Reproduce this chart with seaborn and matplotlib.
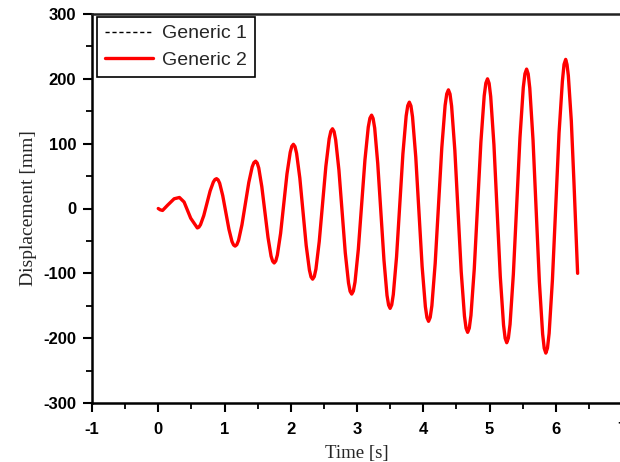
import matplotlib
matplotlib.use("Agg")
import matplotlib.pyplot as plt
import seaborn as sns
import pandas as pd
from matplotlib.ticker import MultipleLocator

# Values
time_s = [0.00, 0.03, 0.065, 0.14, 0.24, 0.32, 0.39, 0.49, 0.59,
          0.638, 0.687, 0.735, 0.783, 0.832, 0.88,
          0.927, 0.973, 1.02, 1.067, 1.113, 1.16,
          1.212, 1.263, 1.315, 1.367, 1.418, 1.47,
          1.517, 1.563, 1.61, 1.657, 1.703, 1.75,
          1.798, 1.847, 1.895, 1.943, 1.992, 2.04,
          2.088, 2.137, 2.185, 2.233, 2.282, 2.33,
          2.38, 2.43, 2.48, 2.53, 2.58, 2.63,
          2.678, 2.727, 2.775, 2.823, 2.872, 2.92,
          2.97, 3.02, 3.07, 3.12, 3.17, 3.22,
          3.267, 3.313, 3.36, 3.407, 3.453, 3.50,
          3.548, 3.597, 3.645, 3.693, 3.742, 3.79,
          3.838, 3.887, 3.935, 3.983, 4.032, 4.08,
          4.13, 4.18, 4.23, 4.28, 4.33, 4.38,
          4.428, 4.477, 4.525, 4.573, 4.622, 4.67,
          4.72, 4.77, 4.82, 4.87, 4.92, 4.97,
          5.018, 5.067, 5.115, 5.163, 5.212, 5.26,
          5.31, 5.36, 5.41, 5.46, 5.51, 5.56,
          5.608, 5.657, 5.705, 5.753, 5.802, 5.85,
          5.90, 5.95, 6.00, 6.05, 6.10, 6.15,
          6.19, 6.235, 6.275, 6.30, 6.33]
displacement_mm = [0, -2, -3, 5, 15, 17, 10, -15, -30,
                   -24.9, -11, 8, 27, 40.9, 46,
                   39.0, 20, -6, -32, -51.0, -58,
                   -49.2, -25.3, 7.5, 40.3, 64.2, 73,
                   62.5, 33.8, -5.5, -44.8, -73.5, -84,
                   -71.7, -38.3, 7.5, 53.3, 86.7, 99,
                   85.1, 47, -5, -57, -95.1, -109,
                   -93.5, -51, 7, 65, 107.5, 123,
                   105.9, 59.3, -4.5, -68.3, -114.9, -132,
                   -113.5, -63, 6, 75, 125.5, 144,
                   124, 69.5, -5, -79.5, -134, -154,
                   -132.7, -74.5, 5, 84.5, 142.7, 164,
                   141.4, 79.5, -5, -89.5, -151.4, -174,
                   -150.1, -84.8, 4.5, 93.8, 159.1, 183,
                   157.9, 89.5, -4, -97.5, -165.9, -191,
                   -164.8, -93.3, 4.5, 102.3, 173.8, 200,
                   172.7, 98.3, -3.5, -105.3, -179.7, -207,
                   -178.7, -101.5, 4, 109.5, 186.7, 215,
                   185.7, 105.5, -4, -113.5, -193.7, -223,
                   -192.6, -109.8, 3.5, 116.8, 196.1, 230,
                   205, 135, 40, -25, -100]
# extra readings close to each crest and trough
crest_time_s = [0.614, 0.856, 0.903, 1.137, 1.186, 1.444, 1.493, 1.727, 1.774,
                2.016, 2.064, 2.306, 2.355, 2.605, 2.654, 2.896, 2.945,
                3.195, 3.243, 3.477, 3.524, 3.766, 3.814, 4.056, 4.105,
                4.355, 4.404, 4.646, 4.695, 4.945, 4.994, 5.236, 5.285,
                5.535, 5.584, 5.826, 5.875, 6.125, 6.17]
crest_disp_mm = [-28.7, 44.7, 44.2, -56.2, -55.8, 70.8, 70.3, -81.3, -80.9,
                 95.9, 95.5, -105.5, -105.1, 119.1, 118.7, -127.7, -127.3,
                 139.3, 138.9, -148.9, -148.6, 158.6, 158.3, -168.3, -167.9,
                 176.9, 176.6, -184.6, -184.4, 193.4, 193.1, -200.1, -199.8,
                 207.8, 207.6, -215.6, -215.3, 222.3, 222.0]
series_names = ["Generic 1", "Generic 2"]
x_ticks = [-1, 0, 1, 2, 3, 4, 5, 6, 7]
y_ticks = [-300, -200, -100, 0, 100, 200, 300]

sns.set_theme(style="ticks")
plt.rcParams["font.family"] = ["Liberation Sans", "DejaVu Sans"]
plt.rcParams["axes.unicode_minus"] = False

curve = pd.DataFrame({"Time": time_s + crest_time_s,
                      "Displacement": displacement_mm + crest_disp_mm})
curve = curve.sort_values("Time").reset_index(drop=True)
df = pd.concat([curve.assign(Series=series_names[0]),
                curve.assign(Series=series_names[1])], ignore_index=True)

fig = plt.figure(figsize=(6.2, 4.62), dpi=100)
ax = fig.add_axes([92 / 620, 59 / 462, 530 / 620, 389 / 462])

sns.lineplot(data=df[df.Series == series_names[0]], x="Time", y="Displacement",
             sort=False, ax=ax, color="black", linewidth=1.0, linestyle="--",
             label=series_names[0], estimator=None)
sns.lineplot(data=df[df.Series == series_names[1]], x="Time", y="Displacement",
             sort=False, ax=ax, color="#ff0000", linewidth=2.4,
             label=series_names[1], estimator=None)
for ln in ax.lines:
    ln.set_solid_joinstyle("round")
    ln.set_solid_capstyle("round")
ax.lines[0].set_dashes([3, 2])

ax.set_xlim(-1, 7)
ax.set_ylim(-300, 300)
ax.set_xticks(x_ticks)
ax.set_yticks(y_ticks)
ax.xaxis.set_minor_locator(MultipleLocator(0.5))
ax.yaxis.set_minor_locator(MultipleLocator(50))

for side in ["left", "bottom", "top", "right"]:
    ax.spines[side].set_linewidth(1.8)
    ax.spines[side].set_color("black")
ax.spines["top"].set_color("#222222")

ax.tick_params(which="major", direction="out", length=6.5, width=1.5,
               colors="black", labelsize=12)
ax.tick_params(which="minor", direction="out", length=4, width=1.3, colors="black")
ax.tick_params(axis="x", which="major", pad=7)
ax.tick_params(axis="y", which="major", pad=5)
ax.tick_params(top=False, right=False, which="both")
for lab in ax.get_xticklabels() + ax.get_yticklabels():
    lab.set_fontweight("bold")
    lab.set_family(["Liberation Sans", "DejaVu Sans"])

ax.set_xlabel("Time [s]", family=["Liberation Serif", "DejaVu Serif"],
              fontsize=13.5, labelpad=6)
ax.set_ylabel("Displacement [mm]", family=["Liberation Serif", "DejaVu Serif"],
              fontsize=14, labelpad=4)

leg = ax.legend(loc="upper left", bbox_to_anchor=(5 / 530, 1 - 3 / 389),
                borderaxespad=0, fancybox=False, framealpha=1,
                edgecolor="black", handlelength=2.5,
                handletextpad=0.45, labelspacing=0.45, borderpad=0.4,
                prop={"family": ["Liberation Sans", "DejaVu Sans"], "size": 14})
leg.get_frame().set_linewidth(1.2)

fig.savefig("out.png", dpi=100)
